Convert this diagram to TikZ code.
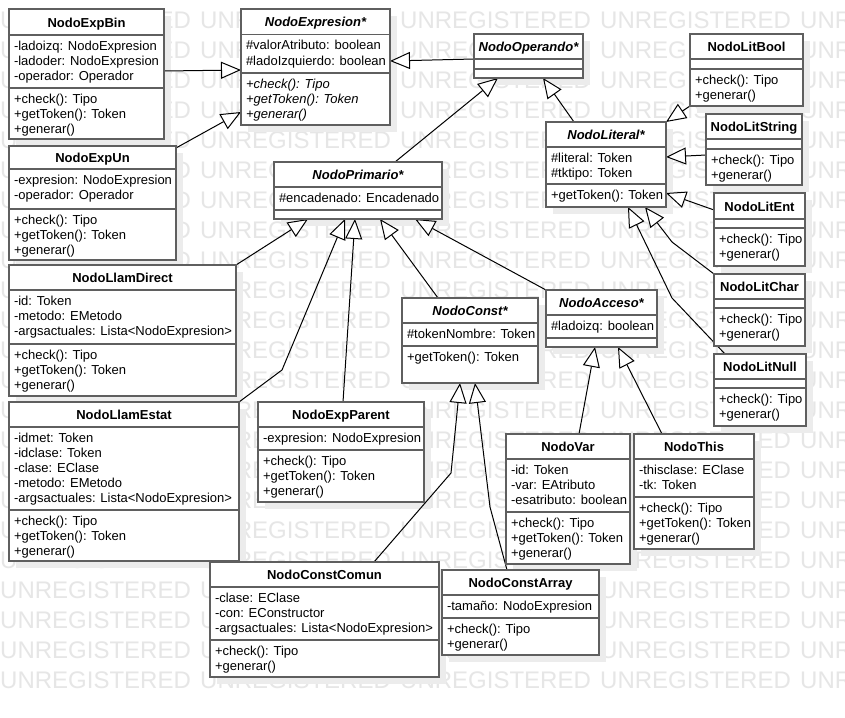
\documentclass[tikz,border=0pt]{standalone}
\usepackage{fontspec}
\setmainfont{Liberation Sans}
\usetikzlibrary{arrows.meta,calc}
\pgfdeclarelayer{bg}
\pgfdeclarelayer{mid}
\pgfsetlayers{bg,mid,main}
\definecolor{framec}{RGB}{95,95,95}
\definecolor{shadowc}{RGB}{236,236,236}
\definecolor{wmc}{RGB}{230,230,230}
\tikzset{
 umlframe/.style={draw=framec, line width=1.5pt, fill=white, rectangle, inner sep=0pt, outer sep=0pt, anchor=north west},
 umlsep/.style={draw=framec, line width=1.5pt},
 itemtxt/.style={anchor=base west, inner sep=0pt, outer sep=0pt, font=\fontsize{13}{15}\selectfont},
 absmeth/.style={font=\fontsize{13}{15}\selectfont\itshape},
 plainitem/.style={},
 titletxt/.style={anchor=base, inner sep=0pt, outer sep=0pt, font=\fontsize{13}{15}\selectfont\bfseries},
 abstitle/.style={font=\fontsize{13}{15}\selectfont\bfseries\itshape},
 conctitle/.style={},
 wmtxt/.style={anchor=base west, inner sep=0pt, text=wmc, font=\fontsize{24}{28}\selectfont},
 gen/.style={draw=black, line width=1pt, -{Triangle[length=20pt,width=17pt,fill=white]}},
}
\newcommand{\umlbox}[9]{%
 \begin{pgfonlayer}{bg}
 \fill[shadowc] (#2+7,#3+7) rectangle (#4+7,#5+7);
 \end{pgfonlayer}
 \node[umlframe, minimum width={(#4-#2)*1pt}, minimum height={(#5-#3)*1pt}] (#1) at (#2,#3) {};
 \draw[umlsep] (#2,#6) -- (#4,#6);
 \draw[umlsep] (#2,#7) -- (#4,#7);
 \node[titletxt,#9] (#1-t) at ({(#2+#4)/2},{(#3+#6)/2+5.2}) {#8};
}
\newcommand{\umlitems}[5]{%
 \foreach \txt [count=\k] in {#5} {
   \node[itemtxt,#4] (#1-\k) at (#2, {#3+15*(\k-1)}) {\txt};
 }
}
\begin{document}
\begin{tikzpicture}[x=1pt,y=-1pt]
\useasboundingbox (0,0) rectangle (845,717);
\begin{pgfonlayer}{bg}
\fill[white] (0,0) rectangle (845,717);
\begin{scope}
\clip (0,0) rectangle (845,717);
\foreach \r in {0,...,22} {
  \foreach \c in {0,...,4} {
    \node[wmtxt] (wm-\r-\c) at (200*\c, 28.6+30*\r) {UNREGISTERED};
  }
}
\end{scope}
\end{pgfonlayer}

% boxes
\umlbox{ExpBin}{9}{9}{164}{139}{35}{88}{NodoExpBin}{conctitle}
\umlitems{ExpBin-a}{14}{50.5}{plainitem}{-ladoizq: NodoExpresion, -ladoder: NodoExpresion, -operador: Operador}
\umlitems{ExpBin-m}{14}{103.5}{plainitem}{+check(): Tipo, +getToken(): Token, +generar()}

\umlbox{Expresion}{241}{9}{390}{125}{34.5}{73}{NodoExpresion*}{abstitle}
\umlitems{Expresion-a}{246}{50}{plainitem}{\#valorAtributo: boolean, \#ladoIzquierdo: boolean}
\umlitems{Expresion-m}{246}{88.5}{absmeth}{+check(): Tipo, +getToken(): Token, +generar()}

\umlbox{Operando}{474}{34}{583}{78}{59}{69}{NodoOperando*}{abstitle}

\umlbox{LitBool}{690}{34}{803}{106}{59}{69}{NodoLitBool}{conctitle}
\umlitems{LitBool-m}{695}{84.5}{plainitem}{+check(): Tipo, +generar()}

\umlbox{ExpUn}{9}{146}{176}{260}{169}{209}{NodoExpUn}{conctitle}
\umlitems{ExpUn-a}{14}{184.5}{plainitem}{-expresion: NodoExpresion, -operador: Operador}
\umlitems{ExpUn-m}{14}{224.5}{plainitem}{+check(): Tipo, +getToken(): Token, +generar()}

\umlbox{Primario}{274}{162}{442}{219}{187}{210}{NodoPrimario*}{abstitle}
\umlitems{Primario-a}{279}{202.3}{plainitem}{\#encadenado: Encadenado}

\umlbox{Literal}{546}{122}{666}{207}{147}{184}{NodoLiteral*}{abstitle}
\umlitems{Literal-a}{551}{162.3}{plainitem}{\#literal: Token, \#tktipo: Token}
\umlitems{Literal-m}{551}{199.3}{plainitem}{+getToken(): Token}

\umlbox{LitString}{706}{114}{802}{185}{139}{149}{NodoLitString}{conctitle}
\umlitems{LitString-m}{711}{164.3}{plainitem}{+check(): Tipo, +generar()}

\umlbox{LitEnt}{714}{193}{805}{266}{219}{228}{NodoLitEnt}{conctitle}
\umlitems{LitEnt-m}{719}{243.3}{plainitem}{+check(): Tipo, +generar()}

\umlbox{LitChar}{714}{274}{805}{346}{299}{308}{NodoLitChar}{conctitle}
\umlitems{LitChar-m}{719}{323.3}{plainitem}{+check(): Tipo, +generar()}

\umlbox{LitNull}{714}{354}{806}{426}{379}{388}{NodoLitNull}{conctitle}
\umlitems{LitNull-m}{719}{403.3}{plainitem}{+check(): Tipo, +generar()}

\umlbox{Const}{402}{298}{538}{383}{323}{346}{NodoConst*}{abstitle}
\umlitems{Const-a}{407}{338.3}{plainitem}{\#tokenNombre: Token}
\umlitems{Const-m}{407}{361.3}{plainitem}{+getToken(): Token}

\umlbox{Acceso}{546}{290}{657}{347}{315}{338}{NodoAcceso*}{abstitle}
\umlitems{Acceso-a}{551}{330.3}{plainitem}{\#ladoizq: boolean}

\umlbox{LlamDirect}{9}{265}{236}{396}{290}{344}{NodoLlamDirect}{conctitle}
\umlitems{LlamDirect-a}{14}{305.3}{plainitem}{-id: Token, -metodo: EMetodo, -argsactuales: Lista<NodoExpresion>}
\umlitems{LlamDirect-m}{14}{359.3}{plainitem}{+check(): Tipo, +getToken(): Token, +generar()}

\umlbox{LlamEstat}{9}{402}{239}{561}{427}{510}{NodoLlamEstat}{conctitle}
\umlitems{LlamEstat-a}{14}{442.3}{plainitem}{-idmet: Token, -idclase: Token, -clase: EClase, -metodo: EMetodo, -argsactuales: Lista<NodoExpresion>}
\umlitems{LlamEstat-m}{14}{525.3}{plainitem}{+check(): Tipo, +getToken(): Token, +generar()}

\umlbox{ExpParent}{258}{402}{424}{502}{427}{450}{NodoExpParent}{conctitle}
\umlitems{ExpParent-a}{263}{442.3}{plainitem}{-expresion: NodoExpresion}
\umlitems{ExpParent-m}{263}{465.3}{plainitem}{+check(): Tipo, +getToken(): Token, +generar()}

\umlbox{Var}{506}{434}{630}{564}{459}{512}{NodoVar}{conctitle}
\umlitems{Var-a}{511}{474.3}{plainitem}{-id: Token, -var: EAtributo, -esatributo: boolean}
\umlitems{Var-m}{511}{527.3}{plainitem}{+check(): Tipo, +getToken(): Token, +generar()}

\umlbox{This}{634}{434}{754}{549}{459}{497}{NodoThis}{conctitle}
\umlitems{This-a}{639}{474.3}{plainitem}{-thisclase: EClase, -tk: Token}
\umlitems{This-m}{639}{512.3}{plainitem}{+check(): Tipo, +getToken(): Token, +generar()}

\umlbox{ConstComun}{210}{562}{439}{677}{587}{640}{NodoConstComun}{conctitle}
\umlitems{ConstComun-a}{215}{602.3}{plainitem}{-clase: EClase, -con: EConstructor, -argsactuales: Lista<NodoExpresion>}
\umlitems{ConstComun-m}{215}{655.3}{plainitem}{+check(): Tipo, +generar()}

\umlbox{ConstArray}{442}{570}{599}{655}{595}{618}{NodoConstArray}{conctitle}
\umlitems{ConstArray-a}{447}{610.3}{plainitem}{-tamaño: NodoExpresion}
\umlitems{ConstArray-m}{447}{633.3}{plainitem}{+check(): Tipo, +generar()}

% generalizations
\begin{pgfonlayer}{mid}
\draw[gen] ($(ExpBin.north east)+(0,62)$) -- ($(Expresion.north west)+(0,61)$);
\draw[gen] ($(ExpUn.north east)+(0,2)$) -- ($(Expresion.north west)+(0,103)$);
\draw[gen] ($(Operando.north west)+(0,25)$) -- ($(Expresion.north east)+(0,52)$);
\draw[gen] ($(Primario.north west)+(121,0)$) -- ($(Operando.south west)+(24,0)$);
\draw[gen] ($(Literal.north west)+(28,0)$) -- ($(Operando.south west)+(69,0)$);
\draw[gen] (LitBool.south west) -- (Literal.north east);
\draw[gen] ($(LitString.north west)+(0,41)$) -- ($(Literal.north east)+(0,35)$);
\draw[gen] ($(LitEnt.north west)+(0,17)$) -- ($(Literal.north east)+(0,71)$);
\draw[gen] (LitChar.north west) -- (672,242) -- ($(Literal.south west)+(99,0)$);
\draw[gen] ($(LitNull.north west)+(11,0)$) -- (672,298) -- ($(Literal.south west)+(82,0)$);
\draw[gen] (LlamDirect.north east) -- ($(Primario.south west)+(34,0)$);
\draw[gen] (LlamEstat.north east) -- (282,370) -- ($(Primario.south west)+(71,0)$);
\draw[gen] ($(ExpParent.north west)+(85,0)$) -- ($(Primario.south west)+(81,0)$);
\draw[gen] ($(Const.north west)+(36,0)$) -- ($(Primario.south west)+(106,0)$);
\draw[gen] (Acceso.north west) -- ($(Primario.south west)+(141,0)$);
\draw[gen] ($(Var.north west)+(73,0)$) -- ($(Acceso.south west)+(49,0)$);
\draw[gen] ($(This.north west)+(28,0)$) -- ($(Acceso.south west)+(72,0)$);
\draw[gen] ($(ConstComun.north west)+(164,0)$) -- (451,473) -- ($(Const.south west)+(58,0)$);
\draw[gen] ($(ConstArray.north west)+(65,0)$) -- (490,507) -- ($(Const.south west)+(73,0)$);
\end{pgfonlayer}
\end{tikzpicture}
\end{document}
